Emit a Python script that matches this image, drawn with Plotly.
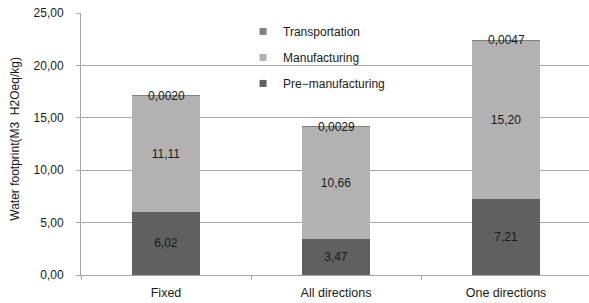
import plotly.graph_objects as go

categories = ["Fixed", "All directions", "One directions"]
pre_manufacturing = [6.02, 3.47, 7.21]
manufacturing = [11.11, 10.66, 15.20]
transportation = [0.0020, 0.0029, 0.0047]
pre_labels = ["6,02", "3,47", "7,21"]
manu_labels = ["11,11", "10,66", "15,20"]
trans_labels = ["0,0020", "0,0029", "0,0047"]
y_ticks = [0, 5, 10, 15, 20, 25]

c_pre = "#606060"
c_manu = "#b2b2b2"
c_trans = "#808080"
font = "Liberation Sans, Arial, sans-serif"
txt = "#1a1a1a"

fig = go.Figure()
fig.add_trace(go.Bar(x=categories, y=pre_manufacturing, name="Pre-manufacturing",
                     marker=dict(color=c_pre, line=dict(width=0)), width=0.4,
                     text=pre_labels, textposition="inside", insidetextanchor="middle",
                     textfont=dict(color=txt, size=12, family=font), showlegend=False))
fig.add_trace(go.Bar(x=categories, y=manufacturing, name="Manufacturing",
                     marker=dict(color=c_manu, line=dict(width=0)), width=0.4,
                     text=manu_labels, textposition="inside", insidetextanchor="middle",
                     textfont=dict(color=txt, size=12, family=font), showlegend=False))
fig.add_trace(go.Bar(x=categories, y=transportation, name="Transportation",
                     marker=dict(color=c_trans, line=dict(width=0)), width=0.4,
                     showlegend=False))

# legend entries (small square markers)
for nm, col, grp in [("Transportation", c_trans, "a"), ("Manufacturing", c_manu, "b"), ("Pre−manufacturing", c_pre, "c")]:
    fig.add_trace(go.Scatter(x=[None], y=[None], mode="markers", name=nm, legendgroup=grp,
                             marker=dict(symbol="square", size=7, color=col)))

totals = [p + m + t for p, m, t in zip(pre_manufacturing, manufacturing, transportation)]
for c, tot, lab in zip(categories, totals, trans_labels):
    fig.add_annotation(x=c, y=tot, text=lab, showarrow=False, yanchor="middle", yshift=0,
                       font=dict(color=txt, size=12, family=font))

fig.add_annotation(xref="paper", yref="paper", x=-0.13, y=0.52, textangle=-90,
                   text="Water footprint(M3  H2Oeq/kg)", showarrow=False,
                   xanchor="center", yanchor="middle",
                   font=dict(size=12, color=txt, family=font))

fig.update_layout(
    barmode="stack",
    width=589, height=303,
    margin=dict(l=81, r=0, t=13, b=28, autoexpand=False),
    paper_bgcolor="white", plot_bgcolor="white",
    font=dict(family=font, size=12, color=txt),
    separators=",.",
    legend=dict(x=0.319, y=0.985, xanchor="left", yanchor="top", bgcolor="rgba(0,0,0,0)",
                traceorder="grouped", tracegroupgap=7, itemwidth=30,
                font=dict(size=12, family=font, color=txt)),
    xaxis=dict(range=[-0.5, 2.488], showline=True, linecolor="#a6a6a6", linewidth=1,
               ticks="outside", tickson="boundaries", ticklen=4, tickcolor="#a6a6a6",
               showgrid=False, automargin=False, ticklabelstandoff=6,
               tickfont=dict(size=12.5, color=txt)),
    yaxis=dict(range=[0, 25.01], tickvals=y_ticks, tickformat=".2f", showline=True,
               linecolor="#a6a6a6", linewidth=1, ticks="outside", ticklen=4,
               tickcolor="#a6a6a6", showgrid=True, gridcolor="#a6a6a6", gridwidth=1,
               zeroline=False, ticklabelstandoff=10, automargin=False,
               tickfont=dict(size=12, color=txt)),
)

fig.write_html("out.html", config={"displayModeBar": False},
               post_script="document.body.style.margin='0';")
